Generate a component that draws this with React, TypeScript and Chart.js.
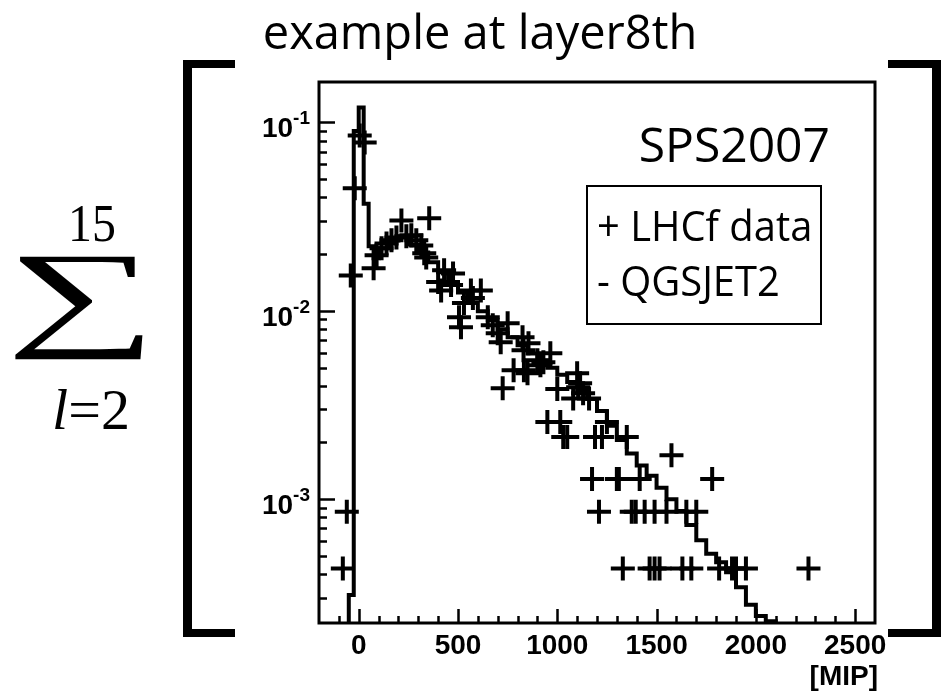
import React, { useEffect, useRef } from 'react';
import { Chart, registerables } from 'chart.js';

Chart.register(...registerables);

// ---------------- data ----------------
// QGSJET2 histogram: left bin edges [MIP] and bin contents
const qgsEdges = [
  -75, -50, -25, 0, 25, 50, 75, 100, 150, 200, 250, 300, 350, 400, 450, 500,
  550, 600, 650, 700, 750, 800, 850, 900, 950, 1000, 1050, 1100, 1150, 1200,
  1250, 1300, 1350, 1400, 1450, 1500, 1550, 1600, 1650, 1700, 1750, 1800,
  1850, 1900, 1950, 2000, 2050, 2100, 2150,
];
const qgsValues = [
  0.000001, 0.00031, 0.09, 0.12, 0.037, 0.022, 0.019, 0.0215, 0.0236, 0.0248,
  0.0225, 0.0204, 0.0181, 0.016, 0.0142, 0.0125, 0.0111, 0.00995, 0.00891,
  0.00798, 0.00723, 0.00656, 0.00594, 0.00543, 0.00499, 0.00458, 0.00419,
  0.00378, 0.0034, 0.00294, 0.00245, 0.00206, 0.00175, 0.00151, 0.00133,
  0.00115, 0.001, 0.000865, 0.000728, 0.000605, 0.000513, 0.000462, 0.000409,
  0.000341, 0.000275, 0.00024, 0.000225, 0.000001, 0.000001,
];

// LHCf data points [MIP] and values
const lhcfX = [
  -80, -60, -40, -20, 5, 30,
  75, 90, 115, 140, 165, 190, 215, 240, 265, 290, 315, 330, 340, 355,
  400, 415, 430, 465, 475, 505, 515, 530, 565, 575, 615,
  650, 675, 700, 715, 725, 750, 780, 825, 830, 832, 850, 855,
  900, 915, 930, 950, 965, 1000, 1015, 1030, 1050, 1080, 1100, 1105,
  1115, 1130, 1160, 1175, 1190, 1210, 1225, 1250, 1300, 1310, 1330, 1350,
  1375, 1395, 1415, 1440, 1465, 1490, 1490, 1515, 1550, 1575, 1630, 1650,
  1675, 1700, 1780, 1815, 1880, 1900, 1950, 2265,
];
const lhcfY = [
  0.000428, 0.000856, 0.0154, 0.0447, 0.0853, 0.0783,
  0.0168, 0.0197, 0.0215, 0.0228, 0.0237, 0.0245, 0.0302, 0.0249, 0.0252, 0.0237, 0.0222, 0.0202, 0.0192, 0.031,
  0.0142, 0.0128, 0.0164, 0.0137, 0.0158, 0.00924, 0.00817, 0.011, 0.0128, 0.0117, 0.0128,
  0.00924, 0.00838, 0.0076, 0.00681, 0.00388, 0.00859, 0.00483, 0.00723, 0.00617, 0.00483, 0.00466, 0.00673,
  0.00546, 0.00514, 0.00533, 0.00257, 0.00595, 0.00385, 0.00257, 0.00214, 0.00214, 0.00342, 0.00466, 0.00393,
  0.00412, 0.00365, 0.00342, 0.00128, 0.00214, 0.000856, 0.00214, 0.00257, 0.00128, 0.00128, 0.000428, 0.00214,
  0.000856, 0.000856, 0.00128, 0.000856, 0.000428, 0.000856, 0.000428, 0.000428, 0.000856, 0.00171, 0.000428, 0.000856,
  0.000428, 0.000856, 0.00128, 0.000428, 0.000428, 0.000428, 0.000428, 0.000428,
];

const xTickValues = [0, 500, 1000, 1500, 2000, 2500];
const xTickLabels = ['0', '500', '1000', '1500', '2000', '2500'];
const xMinorTickValues = [
  -100, 100, 200, 300, 400, 600, 700, 800, 900, 1100, 1200, 1300, 1400,
  1600, 1700, 1800, 1900, 2100, 2200, 2300, 2400,
];
const yTickValues = [0.001, 0.01, 0.1];
const yTickBase = '10';
const yTickExponents = ['-3', '-2', '-1'];
const yMinorTickValues = [
  0.0003, 0.0004, 0.0005, 0.0006, 0.0007, 0.0008, 0.0009,
  0.002, 0.003, 0.004, 0.005, 0.006, 0.007, 0.008, 0.009,
  0.02, 0.03, 0.04, 0.05, 0.06, 0.07, 0.08, 0.09,
];

const X_MIN = -200;
const X_MAX = 2600;
const Y_MIN = 0.00022;
const Y_MAX = 0.164;

const BOLD_FAMILY = "'Liberation Sans', Arial, sans-serif";
const tickFont = { family: BOLD_FAMILY, weight: 'bold' as const, size: 28 };

const framePlugin = {
  id: 'rootFrame',
  afterDraw(chart: any) {
    const { ctx, chartArea, scales } = chart;
    const { left, right, top, bottom } = chartArea;
    const xs = scales.x;
    const ys = scales.y;
    ctx.save();
    ctx.strokeStyle = '#000';
    ctx.lineWidth = 2.5;
    ctx.beginPath();
    xTickValues.forEach((v) => {
      const p = Math.round(xs.getPixelForValue(v)) + 0.5;
      ctx.moveTo(p, bottom);
      ctx.lineTo(p, bottom - 14);
    });
    xMinorTickValues.forEach((v) => {
      const p = Math.round(xs.getPixelForValue(v)) + 0.5;
      ctx.moveTo(p, bottom);
      ctx.lineTo(p, bottom - 7);
    });
    yTickValues.forEach((v) => {
      const p = Math.round(ys.getPixelForValue(v)) + 0.5;
      ctx.moveTo(left, p);
      ctx.lineTo(left + 16, p);
    });
    yMinorTickValues.forEach((v) => {
      const p = Math.round(ys.getPixelForValue(v)) + 0.5;
      ctx.moveTo(left, p);
      ctx.lineTo(left + 8, p);
    });
    ctx.stroke();
    ctx.lineWidth = 3;
    ctx.strokeRect(left, top, right - left, bottom - top);

    // y tick labels: 10 with superscript exponent
    ctx.fillStyle = '#000';
    ctx.textAlign = 'right';
    ctx.textBaseline = 'alphabetic';
    yTickValues.forEach((v, i) => {
      const p = ys.getPixelForValue(v);
      ctx.font = `bold 19px ${BOLD_FAMILY}`;
      const exp = yTickExponents[i];
      const w = ctx.measureText(exp).width;
      const xr = left - 9;
      ctx.fillText(exp, xr, p + 2);
      ctx.font = `bold 28px ${BOLD_FAMILY}`;
      ctx.fillText(yTickBase, xr - w, p + 15);
    });
    ctx.restore();
  },
};

export default function App() {
  const canvasRef = useRef<HTMLCanvasElement | null>(null);

  useEffect(() => {
    document.body.style.margin = '0';
    const canvas = canvasRef.current;
    if (!canvas) return;
    const chart = new Chart(canvas, {
      data: {
        datasets: [
          {
            type: 'line',
            label: 'QGSJET2',
            data: qgsEdges.map((x, i) => ({ x, y: qgsValues[i] })),
            stepped: 'before',
            borderColor: '#000',
            borderWidth: 4,
            pointRadius: 0,
            fill: false,
          },
          {
            type: 'scatter',
            label: 'LHCf data',
            data: lhcfX.map((x, i) => ({ x, y: lhcfY[i] })),
            pointStyle: 'cross',
            pointRadius: 12,
            borderColor: '#000',
            backgroundColor: '#000',
            borderWidth: 4,
          },
        ],
      } as any,
      options: {
        responsive: false,
        animation: false,
        layout: { padding: { left: 0, right: 75, top: 82, bottom: 0 } },
        plugins: { legend: { display: false }, tooltip: { enabled: false } },
        scales: {
          x: {
            type: 'linear',
            min: X_MIN,
            max: X_MAX,
            afterBuildTicks: (s: any) => {
              s.ticks = xTickValues.map((v) => ({ value: v }));
            },
            afterFit: (s: any) => {
              s.height = 70;
            },
            ticks: {
              autoSkip: false,
              maxRotation: 0,
              padding: -2,
              color: '#000',
              font: tickFont,
              callback: (v: any) => {
                const i = xTickValues.indexOf(Number(v));
                return i >= 0 ? xTickLabels[i] : '';
              },
            },
            grid: { display: false },
            border: { display: false },
          },
          y: {
            type: 'logarithmic',
            min: Y_MIN,
            max: Y_MAX,
            afterBuildTicks: (s: any) => {
              s.ticks = yTickValues.map((v) => ({ value: v }));
            },
            afterFit: (s: any) => {
              s.width = 319;
            },
            ticks: { display: false },
            grid: { display: false },
            border: { display: false },
          },
        },
      } as any,
      plugins: [framePlugin],
    });
    return () => chart.destroy();
  }, []);

  const sans = "'Open Sans', 'Noto Sans', sans-serif";
  const serif = "'Liberation Serif', 'DejaVu Serif', serif";

  return (
    <div style={{ position: 'relative', width: 950, height: 693, background: '#fff', overflow: 'hidden' }}>
      <canvas ref={canvasRef} width={950} height={693} style={{ position: 'absolute', left: 0, top: 0, width: 950, height: 693 }} />

      <div style={{ position: 'absolute', left: 5, top: 8, width: 950, textAlign: 'center', font: `47px ${sans}`, lineHeight: '47px', whiteSpace: 'nowrap', color: '#000' }}>
        example at layer8th
      </div>

      {/* brackets */}
      <div style={{ position: 'absolute', left: 183, top: 60, width: 52, height: 577, boxSizing: 'border-box', borderLeft: '9px solid #000', borderTop: '8px solid #000', borderBottom: '8px solid #000' }} />
      <div style={{ position: 'absolute', left: 888, top: 60, width: 53, height: 577, boxSizing: 'border-box', borderRight: '9px solid #000', borderTop: '8px solid #000', borderBottom: '8px solid #000' }} />

      {/* summation */}
      <div style={{ position: 'absolute', left: 57, top: 198, width: 70, textAlign: 'center', font: `52px ${serif}`, lineHeight: '52px', color: '#000', transform: 'scaleX(0.92)' }}>15</div>
      <div style={{ position: 'absolute', left: 17, top: 236, width: 130, height: 120, textAlign: 'center', font: `118px ${serif}`, lineHeight: '118px', color: '#000', transform: 'scaleX(1.8)', transformOrigin: 'center top' }}>∑</div>
      <div style={{ position: 'absolute', left: 36, top: 381, width: 110, textAlign: 'center', font: `58px ${serif}`, lineHeight: '58px', whiteSpace: 'nowrap', color: '#000' }}>
        <span style={{ fontStyle: 'italic' }}>l</span>=2
      </div>

      {/* in-plot text */}
      <div style={{ position: 'absolute', left: 580, top: 120, width: 250, textAlign: 'right', font: `48px ${sans}`, lineHeight: '48px', whiteSpace: 'nowrap', color: '#000' }}>SPS2007</div>
      <div style={{ position: 'absolute', left: 586, top: 185, width: 236, height: 140, boxSizing: 'border-box', border: '2px solid #000', background: '#fff' }}>
        <div style={{ position: 'absolute', left: 9, top: 13, font: `42px ${sans}`, lineHeight: '50px', whiteSpace: 'nowrap', color: '#000', transform: 'scaleX(0.95)', transformOrigin: 'left top' }}>+ LHCf data</div>
        <div style={{ position: 'absolute', left: 9, top: 68, font: `42px ${sans}`, lineHeight: '50px', whiteSpace: 'nowrap', color: '#000', transform: 'scaleX(0.95)', transformOrigin: 'left top' }}>- QGSJET2</div>
      </div>

      <div style={{ position: 'absolute', left: 700, top: 660, width: 178, textAlign: 'right', font: `bold 28px ${BOLD_FAMILY}`, lineHeight: '32px', color: '#000' }}>[MIP]</div>
    </div>
  );
}
